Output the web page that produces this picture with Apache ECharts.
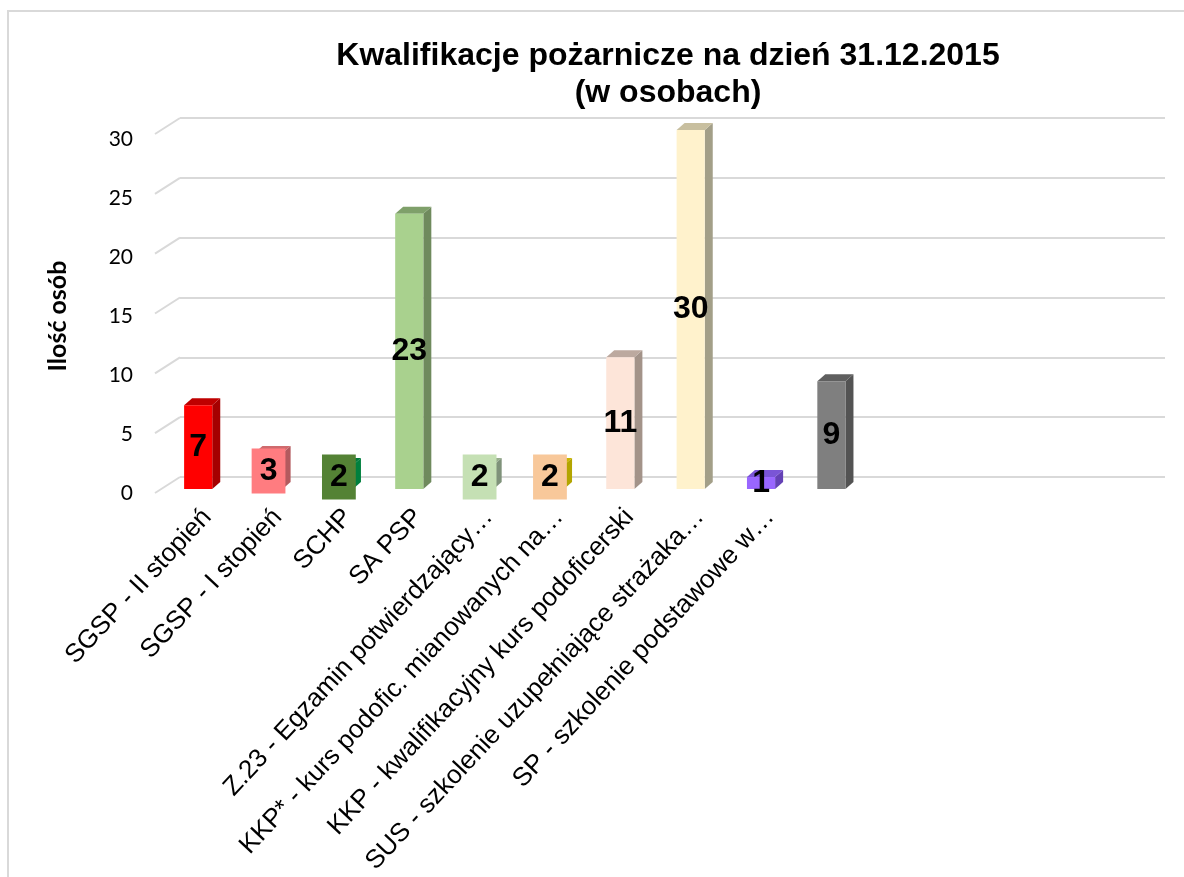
<!DOCTYPE html>
<html><head><meta charset="utf-8">
<script src="https://cdn.jsdelivr.net/npm/echarts@6/dist/echarts.min.js"></script>
<style>html,body{margin:0;padding:0;background:#fff}#c{width:1184px;height:877px}</style>
</head><body><div id="c"></div>
<script>
// ---- data ----
const categories = [
  'SGSP - II stopień',
  'SGSP - I stopień',
  'SCHP',
  'SA PSP',
  'Z.23 - Egzamin potwierdzający…',
  'KKP* - kurs podofic. mianowanych na…',
  'KKP - kwalifikacyjny kurs podoficerski',
  'SUS - szkolenie uzupełniające strażaka…',
  'SP - szkolenie podstawowe w…',
  ''
];
const values = [7, 3, 2, 23, 2, 2, 11, 30, 1, 9];
const emptySlots = ['', '', '', ''];
const yTicks = [0, 5, 10, 15, 20, 25, 30];
const titleText = 'Kwalifikacje pożarnicze na dzień 31.12.2015\n(w osobach)';
const yAxisTitle = 'Ilość osób';

// ---- styles ----
const frontColors = ['#ff0000','#ff7c80','#3a8a3a','#a9d18e','#c5e0b4','#f8c89a','#fde5d9','#fff2cc','#9966ff','#7f7f7f'];
const sideColors  = ['#a50000','#b35a5e','#00803e','#6f8a5d','#7f927a','#b3a500','#a39389','#a39f88','#6441b5','#535353'];
const topColors   = ['#bf0000','#cf6a6d','#007a3a','#7fa06a','#96ad8c','#c9b400','#bca99f','#c8bf9f','#7a55d6','#5f5f5f'];
const boxColors   = [null,'#ff7c80','#548235',null,'#c5e0b4','#f8c89a',null,null,null,null];

const chart = echarts.init(document.getElementById('c'));
const axisCats = categories.concat(emptySlots);

const DX = -17, DY = 12, DEPTH_X = 8, DEPTH_Y = -7;

function renderBar(params, api) {
  const i = api.value(0), v = api.value(1);
  const base = api.coord([i, 0]);
  const topP = api.coord([i, v]);
  const band = api.size([1, 0])[0];
  const w = band * 0.4;
  const cx = base[0] + DX;
  const x0 = cx - w / 2, x1 = cx + w / 2;
  const yb = base[1] + DY, yt = topP[1] + DY;
  const idx = params.dataIndex;
  const box = boxColors[idx];
  const children = [
    {type: 'polygon', shape: {points: [[x1, yt], [x1 + DEPTH_X, yt + DEPTH_Y], [x1 + DEPTH_X, yb + DEPTH_Y], [x1, yb]]},
     style: {fill: sideColors[idx]}},
    {type: 'polygon', shape: {points: [[x0, yt], [x0 + DEPTH_X, yt + DEPTH_Y], [x1 + DEPTH_X, yt + DEPTH_Y], [x1, yt]]},
     style: {fill: topColors[idx]}},
    {type: 'rect', shape: {x: x0, y: yt, width: w, height: yb - yt}, style: {fill: frontColors[idx]}},
    {type: 'text', z2: 10, style: {
      text: String(v), x: cx, y: (yt + yb) / 2, align: 'center', verticalAlign: 'middle',
      fontFamily: '"Liberation Sans", Arial, sans-serif', fontWeight: 'bold', fontSize: 32, fill: '#000',
      backgroundColor: box || 'transparent', padding: box ? [5, 8] : 0, lineHeight: 35
    }}
  ];
  return {type: 'group', children: children};
}

function renderDiag(params, api) {
  const v = api.value(0);
  const p = api.coord([0, v]);
  const left = params.coordSys.x;
  return {type: 'line', shape: {x1: left, y1: p[1], x2: left - 25, y2: p[1] + 16},
          style: {stroke: '#d9d9d9', lineWidth: 2}};
}

chart.setOption({
  animation: false,
  backgroundColor: '#ffffff',
  graphic: [
    {type: 'rect', silent: true, z: -10, shape: {x: 8, y: 11, width: 1200, height: 900},
     style: {fill: 'none', stroke: '#d9d9d9', lineWidth: 2}},
    {type: 'text', x: 668, y: 75, style: {text: titleText, align: 'center', verticalAlign: 'middle',
      fontFamily: '"Liberation Sans", Arial, sans-serif', fontWeight: 'bold', fontSize: 32, lineHeight: 37, fill: '#000'}},
    {type: 'text', x: 58, y: 316, rotation: Math.PI / 2, style: {text: yAxisTitle, align: 'center', verticalAlign: 'middle',
      fontFamily: 'Lato, "Open Sans", sans-serif', fontWeight: 'bold', fontSize: 25, fill: '#000'}}
  ],
  grid: [
    {left: 180, right: 19, top: 118, bottom: 400, outerBoundsMode: 'none'},
    {left: 141, right: 19, top: 139, bottom: 384, outerBoundsMode: 'none'},
    {left: 172, right: 27, top: 118, bottom: 400}
  ],
  xAxis: [
    {type: 'category', gridIndex: 0, data: axisCats, boundaryGap: true, show: false},
    {type: 'value', gridIndex: 1, show: false},
    {type: 'category', gridIndex: 2, data: axisCats, boundaryGap: true,
     axisLine: {show: false}, axisTick: {show: false},
     axisLabel: {interval: 0, rotate: 47, margin: 68, color: '#000',
                 fontFamily: '"Liberation Sans", Arial, sans-serif', fontSize: 26}}
  ],
  yAxis: [
    {type: 'value', gridIndex: 0, min: 0, max: 30, interval: 5,
     axisLine: {show: false}, axisTick: {show: false}, axisLabel: {show: false},
     splitLine: {show: true, lineStyle: {color: '#d9d9d9', width: 2}}},
    {type: 'value', gridIndex: 1, min: 0, max: 30, interval: 5,
     axisLine: {show: false}, axisTick: {show: false}, splitLine: {show: false},
     axisLabel: {margin: 8, color: '#000', fontFamily: 'Lato, "Open Sans", sans-serif', fontSize: 21}},
    {type: 'value', gridIndex: 2, min: 0, max: 30, show: false}
  ],
  series: [
    {type: 'custom', xAxisIndex: 0, yAxisIndex: 0, renderItem: renderDiag, clip: false,
     data: yTicks.map(t => [t]), encode: {y: 0}, silent: true},
    {type: 'custom', xAxisIndex: 0, yAxisIndex: 0, renderItem: renderBar, clip: false,
     data: values.map((v, i) => [i, v]), encode: {x: 0, y: 1}}
  ]
});
</script></body></html>
